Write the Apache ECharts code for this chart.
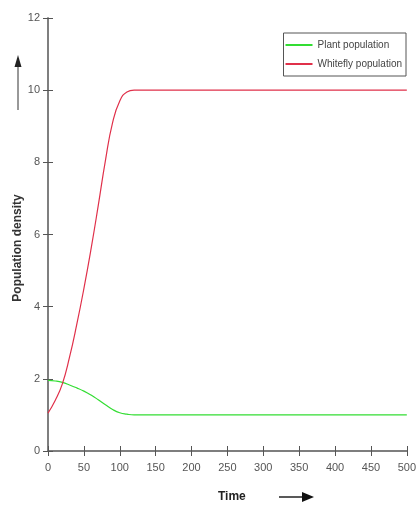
<!DOCTYPE html>
<html>
<head>
<meta charset="utf-8">
<script src="https://cdn.jsdelivr.net/npm/echarts@6/dist/echarts.min.js"></script>
<style>html,body{margin:0;padding:0;background:#fff}#chart{width:419px;height:506px}</style>
</head>
<body>
<div id="chart"></div>
<script>
var times = [0, 10, 20, 30, 40, 50, 60, 70, 80, 90, 100, 110, 120, 130, 150, 200, 250, 300, 350, 400, 450, 500];
var plant = [1.96, 1.94, 1.9, 1.83, 1.75, 1.66, 1.55, 1.42, 1.28, 1.15, 1.06, 1.02, 1.0, 1.0, 1.0, 1.0, 1.0, 1.0, 1.0, 1.0, 1.0, 1.0];
var whitefly = [1.05, 1.4, 1.86, 2.6, 3.5, 4.5, 5.6, 6.8, 8.05, 9.1, 9.7, 9.95, 10.0, 10.0, 10.0, 10.0, 10.0, 10.0, 10.0, 10.0, 10.0, 10.0];
var xTicks = [0, 50, 100, 150, 200, 250, 300, 350, 400, 450, 500];

function pairs(ys) {
    return times.map(function (t, i) { return [t, ys[i]]; });
}

var chartDom = document.getElementById('chart');
var myChart = echarts.init(chartDom);
var option;

var axisLine = { show: true, lineStyle: { color: '#777', width: 1.5 } };
var tickIn = { show: true, inside: true, length: 5, lineStyle: { color: '#555' } };
var lbl = { color: '#555', fontSize: 11, fontFamily: 'Liberation Sans Narrow, Arial Narrow, sans-serif' };

option = {
    animation: false,
    grid: { left: 48, right: 2, top: 18, bottom: 55 },
    legend: {
        right: 13,
        top: 33,
        orient: 'vertical',
        itemWidth: 27,
        itemHeight: 2,
        itemGap: 9,
        padding: [7, 4, 7, 2],
        borderColor: '#555',
        borderWidth: 1,
        icon: 'rect',
        textStyle: { color: '#444', fontSize: 10, fontFamily: 'Liberation Sans Narrow, sans-serif' },
        data: ['Plant population', 'Whitefly population']
    },
    xAxis: [{
        type: 'value', min: 0, max: 500, interval: 50,
        axisLine: axisLine, axisTick: tickIn, splitLine: { show: false },
        axisLabel: Object.assign({ margin: 11, formatter: function (v) { return xTicks.indexOf(v) >= 0 ? String(v) : ''; } }, lbl)
    }, {
        type: 'value', min: 0, max: 500, interval: 50, position: 'top',
        axisLine: axisLine, axisTick: tickIn, axisLabel: { show: false }, splitLine: { show: false }
    }],
    yAxis: [{
        type: 'value', min: 0, max: 12, interval: 2,
        axisLine: axisLine, axisTick: tickIn, splitLine: { show: false },
        axisLabel: Object.assign({ margin: 8 }, lbl)
    }, {
        type: 'value', min: 0, max: 12, interval: 2, position: 'right',
        axisLine: axisLine, axisTick: tickIn, axisLabel: { show: false }, splitLine: { show: false }
    }],
    series: [{
        name: 'Plant population',
        type: 'line',
        smooth: true,
        showSymbol: false,
        color: '#33dd33',
        lineStyle: { width: 1.2 },
        data: pairs(plant)
    }, {
        name: 'Whitefly population',
        type: 'line',
        smooth: true,
        showSymbol: false,
        color: '#e0304a',
        lineStyle: { width: 1.2 },
        data: pairs(whitefly)
    }],
    graphic: [{
        type: 'text',
        x: 18, y: 248,
        rotation: Math.PI / 2,
        style: { text: 'Population density', fill: '#333', font: 'bold 12px Liberation Sans, Arial, sans-serif', align: 'center', verticalAlign: 'middle' }
    }, {
        type: 'line', shape: { x1: 18, y1: 110, x2: 18, y2: 62 }, style: { stroke: '#333', lineWidth: 1 }
    }, {
        type: 'polygon', shape: { points: [[18, 55], [14.5, 67], [21.5, 67]] }, style: { fill: '#222' }
    }, {
        type: 'text', x: 218, y: 497,
        style: { text: 'Time', fill: '#222', font: 'bold 12px Liberation Sans Narrow, sans-serif', verticalAlign: 'middle' }
    }, {
        type: 'line', shape: { x1: 279, y1: 497, x2: 306, y2: 497 }, style: { stroke: '#222', lineWidth: 1.5 }
    }, {
        type: 'polygon', shape: { points: [[314, 497], [302, 492], [302, 502]] }, style: { fill: '#111' }
    }]
};

option && myChart.setOption(option);
</script>
</body>
</html>
